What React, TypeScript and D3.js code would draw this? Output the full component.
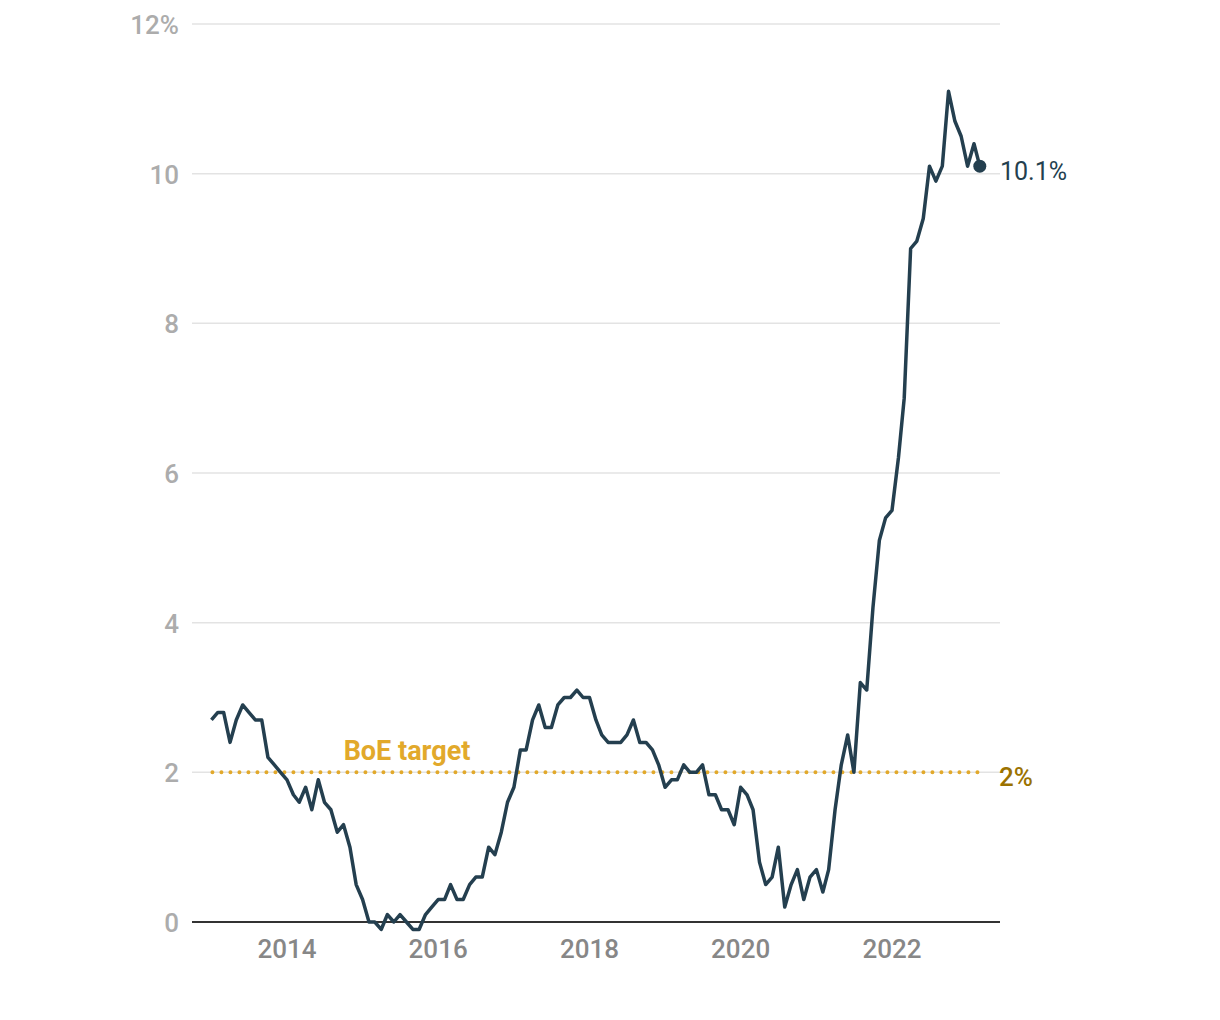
import React from "react";
import * as d3 from "d3";

const startYear = 2013;
const cpi: number[] = [
  // 2013
  2.7, 2.8, 2.8, 2.4, 2.7, 2.9, 2.8, 2.7, 2.7, 2.2, 2.1, 2.0,
  // 2014
  1.9, 1.7, 1.6, 1.8, 1.5, 1.9, 1.6, 1.5, 1.2, 1.3, 1.0, 0.5,
  // 2015
  0.3, 0.0, 0.0, -0.1, 0.1, 0.0, 0.1, 0.0, -0.1, -0.1, 0.1, 0.2,
  // 2016
  0.3, 0.3, 0.5, 0.3, 0.3, 0.5, 0.6, 0.6, 1.0, 0.9, 1.2, 1.6,
  // 2017
  1.8, 2.3, 2.3, 2.7, 2.9, 2.6, 2.6, 2.9, 3.0, 3.0, 3.1, 3.0,
  // 2018
  3.0, 2.7, 2.5, 2.4, 2.4, 2.4, 2.5, 2.7, 2.4, 2.4, 2.3, 2.1,
  // 2019
  1.8, 1.9, 1.9, 2.1, 2.0, 2.0, 2.1, 1.7, 1.7, 1.5, 1.5, 1.3,
  // 2020
  1.8, 1.7, 1.5, 0.8, 0.5, 0.6, 1.0, 0.2, 0.5, 0.7, 0.3, 0.6,
  // 2021
  0.7, 0.4, 0.7, 1.5, 2.1, 2.5, 2.0, 3.2, 3.1, 4.2, 5.1, 5.4,
  // 2022
  5.5, 6.2, 7.0, 9.0, 9.1, 9.4, 10.1, 9.9, 10.1, 11.1, 10.7, 10.5,
  // 2023
  10.1, 10.4, 10.1,
];
const yTicks = [0, 2, 4, 6, 8, 10, 12];
const xTickYears = [2014, 2016, 2018, 2020, 2022];
const target = 2;
const targetLabel = "BoE target";

export default function App() {
  const data = cpi.map((v, i) => ({ date: new Date(startYear, i, 1), v }));
  const x = d3
    .scaleTime()
    .domain([new Date(2014, 0, 1), new Date(2022, 0, 1)])
    .range([287, 892]);
  const y = d3.scaleLinear().domain([0, 12]).range([922, 24]);
  const left = 192;
  const right = 1000;
  const line = d3
    .line<{ date: Date; v: number }>()
    .x((d) => x(d.date))
    .y((d) => y(d.v));
  const last = data[data.length - 1];
  const first = data[0];
  const font = "Roboto, 'Noto Sans', sans-serif";

  return (
    <svg width={1220} height={1020} style={{ display: "block", position: "absolute", left: 0, top: 0 }} fontFamily={font}>
      <rect width={1220} height={1020} fill="#fff" />
      {yTicks.map((t) => (
        <g key={t}>
          {t !== 0 && (
            <line x1={left} x2={right} y1={y(t)} y2={y(t)} stroke="#e3e3e3" strokeWidth={1.5} />
          )}
          <text x={179} y={y(t) + 10} textAnchor="end" fontSize={26} fontWeight={500} fill="#acacac">
            {t === 12 ? "12%" : t}
          </text>
        </g>
      ))}
      <line
        x1={x(first.date) + 1}
        x2={x(last.date)}
        y1={y(target)}
        y2={y(target)}
        stroke="#e2a92b"
        strokeWidth={4}
        strokeLinecap="round"
        strokeDasharray="0 9"
      />
      <text x={407} y={760} textAnchor="middle" fontSize={27} fontWeight={700} fill="#e2a92b">
        {targetLabel}
      </text>
      <text x={999} y={786} fontSize={26} fontWeight={500} fill="#9b7200">
        {target}%
      </text>
      <line x1={left} x2={right} y1={y(0)} y2={y(0)} stroke="#333" strokeWidth={2} />
      {xTickYears.map((yr) => (
        <text key={yr} x={x(new Date(yr, 0, 1))} y={958} textAnchor="middle" fontSize={26} fontWeight={500} fill="#878787">
          {yr}
        </text>
      ))}
      <path d={line(data) ?? ""} fill="none" stroke="#243f4f" strokeWidth={3.5} strokeLinejoin="round" />
      <circle cx={x(last.date)} cy={y(last.v)} r={6.5} fill="#243f4f" />
      <text x={1000} y={180} fontSize={25} fontWeight={400} fill="#243f4f">
        {last.v.toFixed(1)}%
      </text>
    </svg>
  );
}
